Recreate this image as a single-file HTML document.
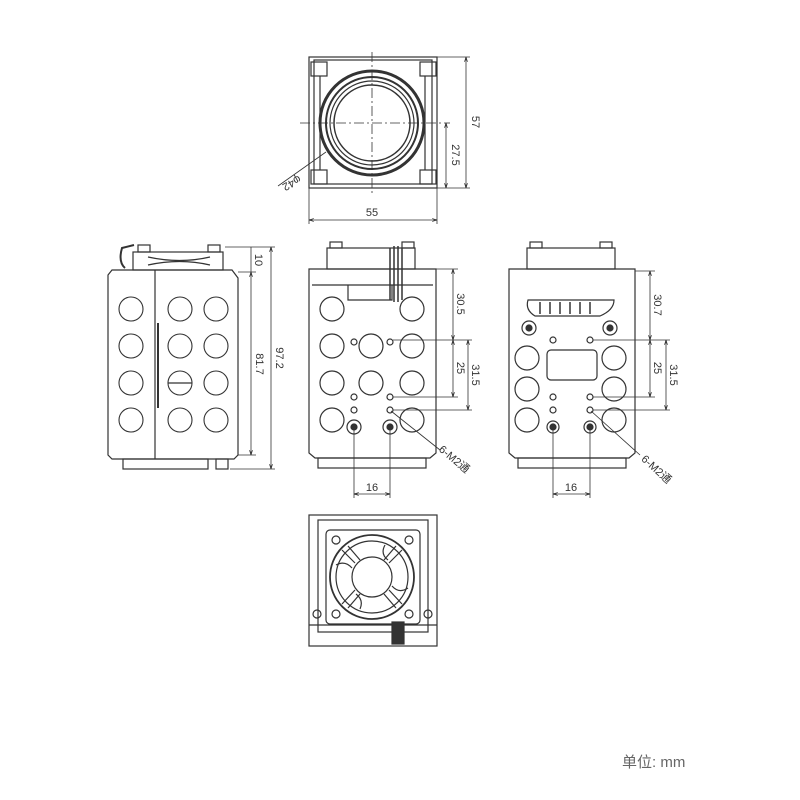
<!DOCTYPE html>
<html><head><meta charset="utf-8"><style>
html,body{margin:0;padding:0;background:#fff;}
svg{display:block}
text{font-family:"Liberation Sans","Noto Sans CJK SC",sans-serif;fill:#333}
</style></head><body>
<svg width="800" height="800" viewBox="0 0 800 800" xmlns="http://www.w3.org/2000/svg">
<defs>
<marker id="a" viewBox="0 0 10 10" refX="10" refY="5" markerWidth="6" markerHeight="6" orient="auto-start-reverse"><path d="M0,2 L10,5 L0,8" fill="none" stroke="#222" stroke-width="1.5"/></marker>
</defs>
<g fill="none" stroke="#333" stroke-width="1.2">
<!-- TOP VIEW -->
<rect x="309" y="57" width="128" height="131"/>
<rect x="314" y="60" width="118" height="124"/>
<rect x="311" y="62" width="16" height="14"/><rect x="420" y="62" width="16" height="14"/>
<rect x="311" y="170" width="16" height="14"/><rect x="420" y="170" width="16" height="14"/>
<line x1="320" y1="76" x2="320" y2="170"/><line x1="425" y1="76" x2="425" y2="170"/>
<circle cx="372" cy="123" r="52" stroke-width="3"/>
<circle cx="372" cy="123" r="46" stroke-width="2"/>
<circle cx="372" cy="123" r="42"/>
<circle cx="372" cy="123" r="38" stroke-width="1.5"/>
<line x1="372" y1="52" x2="372" y2="195" stroke-dasharray="10,3,2,3" stroke-width="0.8"/>
<line x1="300" y1="123" x2="445" y2="123" stroke-dasharray="10,3,2,3" stroke-width="0.8"/>
<line x1="437" y1="57" x2="470" y2="57" stroke-width="0.8"/>
<line x1="437" y1="188" x2="470" y2="188" stroke-width="0.8"/>
<line x1="445" y1="123" x2="450" y2="123" stroke-width="0.8"/>
<line x1="466" y1="57" x2="466" y2="188" marker-start="url(#a)" marker-end="url(#a)" stroke-width="0.8"/>
<line x1="446" y1="123" x2="446" y2="188" marker-start="url(#a)" marker-end="url(#a)" stroke-width="0.8"/>
<line x1="309" y1="188" x2="309" y2="224" stroke-width="0.8"/>
<line x1="437" y1="188" x2="437" y2="224" stroke-width="0.8"/>
<line x1="309" y1="220" x2="437" y2="220" marker-start="url(#a)" marker-end="url(#a)" stroke-width="0.8"/>
<line x1="326" y1="152" x2="278" y2="186" stroke-width="0.8"/>

<!-- LEFT SIDE VIEW -->
<path d="M108,275 L112,270 L232,270 L238,278 L238,455 L234,459 L112,459 L108,455 Z"/>
<line x1="155" y1="270" x2="155" y2="459"/>
<rect x="133" y="252" width="90" height="18"/>
<rect x="138" y="245" width="12" height="7"/><rect x="208" y="245" width="12" height="7"/>
<path d="M125,268 Q118,262 122,248 L134,245" stroke-width="2"/>
<path d="M148,257 Q180,264 210,257 M148,265 Q180,258 210,265"/>
<rect x="123" y="459" width="85" height="10"/>
<rect x="216" y="459" width="12" height="10"/>
<g stroke-width="1.1">
<circle cx="131" cy="309" r="12"/><circle cx="180" cy="309" r="12"/><circle cx="216" cy="309" r="12"/>
<circle cx="131" cy="346" r="12"/><circle cx="180" cy="346" r="12"/><circle cx="216" cy="346" r="12"/>
<circle cx="131" cy="383" r="12"/><circle cx="180" cy="383" r="12"/><circle cx="216" cy="383" r="12"/>
<circle cx="131" cy="420" r="12"/><circle cx="180" cy="420" r="12"/><circle cx="216" cy="420" r="12"/>
</g>
<line x1="158" y1="323" x2="158" y2="408" stroke-width="2"/>
<line x1="168" y1="383" x2="192" y2="383"/>
<line x1="238" y1="272" x2="256" y2="272" stroke-width="0.8"/>
<line x1="225" y1="247" x2="275" y2="247" stroke-width="0.8"/>
<line x1="230" y1="469" x2="275" y2="469" stroke-width="0.8"/>
<line x1="238" y1="455" x2="256" y2="455" stroke-width="0.8"/>
<line x1="251" y1="272" x2="251" y2="455" marker-start="url(#a)" marker-end="url(#a)" stroke-width="0.8"/>
<line x1="271" y1="247" x2="271" y2="469" marker-start="url(#a)" marker-end="url(#a)" stroke-width="0.8"/>
<line x1="251" y1="247" x2="251" y2="272" stroke-width="0.8"/>

<!-- MIDDLE VIEW -->
<path d="M309,269 L436,269 L436,453 L430,458 L315,458 L309,453 Z"/>
<line x1="312" y1="285" x2="433" y2="285"/>
<path d="M348,285 L348,300 L392,300 L392,285"/>
<rect x="327" y="248" width="88" height="21"/>
<rect x="330" y="242" width="12" height="6"/><rect x="402" y="242" width="12" height="6"/>
<path d="M390,248 L390,300 M394,246 L394,302 M398,246 L398,302 M402,248 L402,300" stroke-width="1.5"/>
<rect x="318" y="458" width="108" height="10"/>
<g>
<circle cx="332" cy="309" r="12"/><circle cx="412" cy="309" r="12"/>
<circle cx="332" cy="346" r="12"/><circle cx="371" cy="346" r="12"/><circle cx="412" cy="346" r="12"/>
<circle cx="332" cy="383" r="12"/><circle cx="371" cy="383" r="12"/><circle cx="412" cy="383" r="12"/>
<circle cx="332" cy="420" r="12"/><circle cx="412" cy="420" r="12"/>
<circle cx="354" cy="342" r="3"/><circle cx="390" cy="342" r="3"/>
<circle cx="354" cy="397" r="3"/><circle cx="390" cy="397" r="3"/>
<circle cx="354" cy="410" r="3"/><circle cx="390" cy="410" r="3"/>
<circle cx="354" cy="427" r="7"/><circle cx="390" cy="427" r="7"/>
<circle cx="354" cy="427" r="3" fill="#333"/><circle cx="390" cy="427" r="3" fill="#333"/>
</g>
<line x1="436" y1="269" x2="458" y2="269" stroke-width="0.8"/>
<line x1="393" y1="340" x2="472" y2="340" stroke-width="0.8"/>
<line x1="393" y1="397" x2="458" y2="397" stroke-width="0.8"/>
<line x1="393" y1="410" x2="472" y2="410" stroke-width="0.8"/>
<line x1="453" y1="269" x2="453" y2="340" marker-start="url(#a)" marker-end="url(#a)" stroke-width="0.8"/>
<line x1="453" y1="340" x2="453" y2="397" marker-start="url(#a)" marker-end="url(#a)" stroke-width="0.8"/>
<line x1="468" y1="340" x2="468" y2="410" marker-start="url(#a)" marker-end="url(#a)" stroke-width="0.8"/>
<line x1="354" y1="430" x2="354" y2="498" stroke-width="0.8"/>
<line x1="390" y1="430" x2="390" y2="498" stroke-width="0.8"/>
<line x1="354" y1="494" x2="390" y2="494" marker-start="url(#a)" marker-end="url(#a)" stroke-width="0.8"/>
<line x1="391" y1="411" x2="440" y2="450" stroke-width="0.8"/>

<!-- RIGHT VIEW -->
<path d="M509,269 L635,269 L635,453 L629,458 L515,458 L509,453 Z"/>
<rect x="527" y="248" width="88" height="21"/>
<rect x="530" y="242" width="12" height="6"/><rect x="600" y="242" width="12" height="6"/>
<path d="M528,300 Q525,310 535,316 L600,316 Q614,310 614,300 Z"/>
<path d="M540,302 L540,314 M550,302 L550,314 M560,302 L560,314 M570,302 L570,314 M580,302 L580,314 M590,302 L590,314" stroke-width="1.5"/>
<rect x="518" y="458" width="108" height="10"/>
<circle cx="529" cy="328" r="7"/><circle cx="610" cy="328" r="7"/>
<circle cx="529" cy="328" r="3" fill="#333"/><circle cx="610" cy="328" r="3" fill="#333"/>
<circle cx="527" cy="358" r="12"/><circle cx="614" cy="358" r="12"/>
<circle cx="527" cy="389" r="12"/><circle cx="614" cy="389" r="12"/>
<circle cx="527" cy="420" r="12"/><circle cx="614" cy="420" r="12"/>
<rect x="547" y="350" width="50" height="30" rx="4"/>
<circle cx="553" cy="340" r="3"/><circle cx="590" cy="340" r="3"/>
<circle cx="553" cy="397" r="3"/><circle cx="590" cy="397" r="3"/>
<circle cx="553" cy="410" r="3"/><circle cx="590" cy="410" r="3"/>
<circle cx="553" cy="427" r="6"/><circle cx="590" cy="427" r="6"/>
<circle cx="553" cy="427" r="3" fill="#333"/><circle cx="590" cy="427" r="3" fill="#333"/>
<line x1="635" y1="271" x2="655" y2="271" stroke-width="0.8"/>
<line x1="593" y1="340" x2="670" y2="340" stroke-width="0.8"/>
<line x1="593" y1="397" x2="655" y2="397" stroke-width="0.8"/>
<line x1="593" y1="410" x2="670" y2="410" stroke-width="0.8"/>
<line x1="650" y1="271" x2="650" y2="340" marker-start="url(#a)" marker-end="url(#a)" stroke-width="0.8"/>
<line x1="650" y1="340" x2="650" y2="397" marker-start="url(#a)" marker-end="url(#a)" stroke-width="0.8"/>
<line x1="666" y1="340" x2="666" y2="410" marker-start="url(#a)" marker-end="url(#a)" stroke-width="0.8"/>
<line x1="553" y1="430" x2="553" y2="498" stroke-width="0.8"/>
<line x1="590" y1="430" x2="590" y2="498" stroke-width="0.8"/>
<line x1="553" y1="494" x2="590" y2="494" marker-start="url(#a)" marker-end="url(#a)" stroke-width="0.8"/>
<line x1="591" y1="411" x2="640" y2="455" stroke-width="0.8"/>

<!-- BOTTOM FAN VIEW -->
<rect x="309" y="515" width="128" height="131"/>
<rect x="318" y="520" width="110" height="112"/>
<rect x="326" y="530" width="94" height="94" rx="4"/>
<circle cx="372" cy="577" r="42" stroke-width="1.8"/>
<circle cx="372" cy="577" r="36"/>
<circle cx="372" cy="577" r="20"/>
<path d="M342,550 L355,563 M389,590 L402,604 M402,550 L389,563 M355,590 L342,604"/>
<path d="M348,546 L360,560 M384,594 L396,608 M396,546 L384,560 M360,594 L348,608"/>
<path d="M336,565 Q345,560 352,568 M408,588 Q399,594 392,586 M385,545 Q380,554 388,560 M360,609 Q364,600 356,594"/>
<circle cx="336" cy="540" r="4"/><circle cx="409" cy="540" r="4"/>
<circle cx="336" cy="614" r="4"/><circle cx="409" cy="614" r="4"/>
<circle cx="317" cy="614" r="4"/><circle cx="428" cy="614" r="4"/>
<line x1="309" y1="625" x2="437" y2="625"/>
<rect x="392" y="622" width="12" height="22" fill="#333"/>
</g>
<!-- labels -->
<g font-size="11">
<text x="372" y="216" text-anchor="middle">55</text>
<text transform="translate(472,122) rotate(90)" text-anchor="middle">57</text>
<text transform="translate(452,155) rotate(90)" text-anchor="middle">27.5</text>
<text transform="translate(290,180) rotate(150)" text-anchor="middle">φ42</text>
<text transform="translate(255,260) rotate(90)" text-anchor="middle">10</text>
<text transform="translate(256,364) rotate(90)" text-anchor="middle">81.7</text>
<text transform="translate(276,358) rotate(90)" text-anchor="middle">97.2</text>
<text transform="translate(457,304) rotate(90)" text-anchor="middle">30.5</text>
<text transform="translate(457,368) rotate(90)" text-anchor="middle">25</text>
<text transform="translate(472,375) rotate(90)" text-anchor="middle">31.5</text>
<text x="372" y="491" text-anchor="middle">16</text>
<text transform="translate(452,462) rotate(40)" text-anchor="middle">6-M2通</text>
<text transform="translate(654,305) rotate(90)" text-anchor="middle">30.7</text>
<text transform="translate(654,368) rotate(90)" text-anchor="middle">25</text>
<text transform="translate(670,375) rotate(90)" text-anchor="middle">31.5</text>
<text x="571" y="491" text-anchor="middle">16</text>
<text transform="translate(654,472) rotate(42)" text-anchor="middle">6-M2通</text>
</g>
<text x="622" y="767" font-size="15" style="fill:#666">单位:  mm</text>
</svg>
</body></html>
